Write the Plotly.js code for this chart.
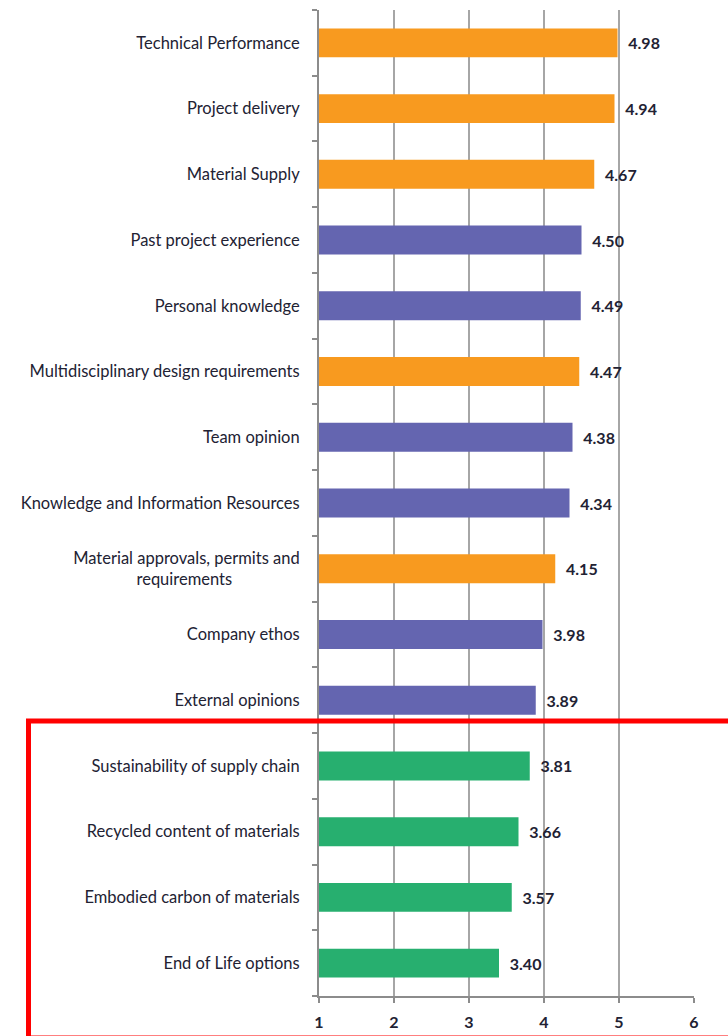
<!DOCTYPE html>
<html>
<head>
<meta charset="utf-8">
<script src="https://cdn.plot.ly/plotly-3.0.1.min.js"></script>
<style>
html,body{margin:0;padding:0;background:#fff;}
#chart{width:728px;height:1036px;}
</style>
</head>
<body>
<div id="chart"></div>
<script>
const categories = [
  "Technical Performance",
  "Project delivery",
  "Material Supply",
  "Past project experience",
  "Personal knowledge",
  "Multidisciplinary design requirements",
  "Team opinion",
  "Knowledge and Information Resources",
  "Material approvals, permits and requirements",
  "Company ethos",
  "External opinions",
  "Sustainability of supply chain",
  "Recycled content of materials",
  "Embodied carbon of materials",
  "End of Life options"
];
const tickLabels = [
  "Technical Performance",
  "Project delivery",
  "Material Supply",
  "Past project experience",
  "Personal knowledge",
  "Multidisciplinary design requirements",
  "Team opinion",
  "Knowledge and Information Resources",
  "Material approvals, permits and<br>requirements\u00a0\u00a0\u00a0\u00a0\u00a0\u00a0\u00a0\u00a0\u00a0\u00a0\u00a0\u00a0\u00a0\u00a0\u00a0\u00a0",
  "Company ethos",
  "External opinions",
  "Sustainability of supply chain",
  "Recycled content of materials",
  "Embodied carbon of materials",
  "End of Life options"
];
const values = [4.98, 4.94, 4.67, 4.50, 4.49, 4.47, 4.38, 4.34, 4.15, 3.98, 3.89, 3.81, 3.66, 3.57, 3.40];
const groups = ["project","project","project","personal","personal","project","personal","personal","project","personal","personal","sustain","sustain","sustain","sustain"];
const xTicks = [1, 2, 3, 4, 5, 6];

const groupColors = {project: "#F89A1F", personal: "#6465B0", sustain: "#27AF6F"};
const FONT = "Lato, 'Open Sans', sans-serif";
const AXIS_START = 1;

const trace = {
  type: "bar",
  orientation: "h",
  y: categories,
  x: values.map(v => v - AXIS_START),
  base: AXIS_START,
  width: 0.44,
  marker: {color: groups.map(g => groupColors[g]), line: {width: 0}},
  text: values.map(v => "\u00a0\u00a0" + v.toFixed(2)),
  textposition: "outside",
  textfont: {family: FONT, size: 16, color: "#222233", weight: "bold"},
  constraintext: "none",
  cliponaxis: false,
  hoverinfo: "skip"
};

const layout = {
  width: 728,
  height: 1036,
  margin: {l: 319, r: 34, t: 10, b: 40},
  paper_bgcolor: "#ffffff",
  plot_bgcolor: "#ffffff",
  showlegend: false,
  font: {family: FONT, size: 16, color: "#222233"},
  xaxis: {
    range: [1, 6],
    tickvals: xTicks,
    ticktext: xTicks.map(String),
    showgrid: true,
    gridcolor: "#a6a6a6",
    gridwidth: 2,
    zeroline: false,
    showline: true,
    linecolor: "#8c8c8c",
    linewidth: 2,
    ticks: "outside",
    ticklen: 5,
    tickwidth: 2,
    tickcolor: "#8c8c8c",
    ticklabelstandoff: 6,
    tickfont: {family: FONT, size: 16, color: "#222233", weight: "bold"},
    fixedrange: true
  },
  yaxis: {
    type: "category",
    categoryorder: "array",
    categoryarray: categories,
    tickvals: categories,
    ticktext: tickLabels,
    autorange: "reversed",
    showgrid: false,
    zeroline: false,
    showline: true,
    linecolor: "#8c8c8c",
    linewidth: 2,
    ticks: "outside",
    tickson: "boundaries",
    ticklen: 5,
    tickwidth: 2,
    tickcolor: "#8c8c8c",
    ticklabelstandoff: 14,
    tickfont: {family: FONT, size: 16.5, color: "#222233"},
    fixedrange: true
  },
  shapes: [{
    type: "rect",
    xref: "paper", yref: "paper",
    x0: (28.5 - 319) / 375, x1: (740 - 319) / 375,
    y0: (996 - 1038) / 986, y1: (996 - 721) / 986,
    line: {color: "#ff0000", width: 5},
    fillcolor: "rgba(0,0,0,0)",
    layer: "above"
  }]
};

Plotly.newPlot("chart", [trace], layout, {displayModeBar: false, staticPlot: true});
</script>
</body>
</html>
